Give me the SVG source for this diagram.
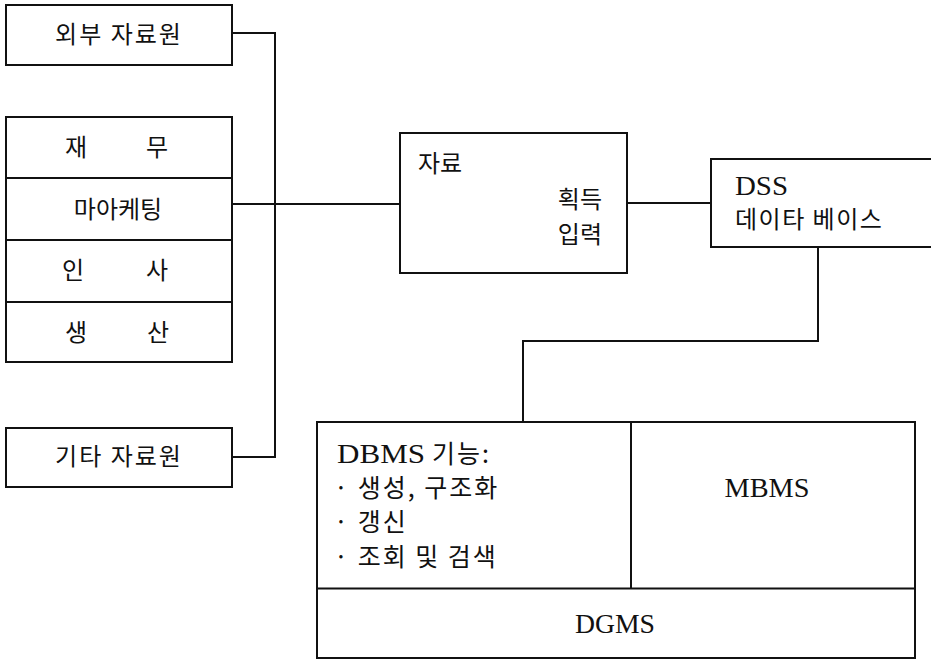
<svg xmlns="http://www.w3.org/2000/svg" width="931" height="660" viewBox="0 0 931 660">
<style>
.box{fill:#fff;stroke:#111;stroke-width:2}
.ln{fill:none;stroke:#111;stroke-width:2}
.ko{font-family:"Noto Sans CJK KR","Noto Sans",sans-serif;font-size:24px;fill:#111}
.kob{font-family:"Noto Sans CJK KR","Noto Sans",sans-serif;font-size:25px;fill:#111;letter-spacing:2px}
.la{font-family:"Liberation Serif","Times New Roman",serif;font-size:27px;fill:#111}
.mid{text-anchor:middle}
</style>
<rect width="931" height="660" fill="#fff"/>
<g id="connectors">
<path class="ln" d="M232,33 H275 V457 H232"/>
<path class="ln" d="M232,204 H400"/>
<path class="ln" d="M627,203 H711"/>
<path class="ln" d="M818,247 V341 H523 V422"/>
</g>
<g id="external">
<rect class="box" x="6" y="5" width="226" height="60"/>
<text class="ko mid" x="119" y="43" letter-spacing="2">외부 자료원</text>
</g>
<g id="internal">
<rect class="box" x="6" y="117" width="226" height="245"/>
<path class="ln" d="M6,178 H232 M6,240 H232 M6,302 H232"/>
<text class="ko mid" y="156"><tspan x="76">재</tspan><tspan x="157">무</tspan></text>
<text class="ko mid" x="118" y="218">마아케팅</text>
<text class="ko mid" y="279"><tspan x="73">인</tspan><tspan x="157">사</tspan></text>
<text class="ko mid" y="341"><tspan x="76">생</tspan><tspan x="158">산</tspan></text>
</g>
<g id="other">
<rect class="box" x="6" y="428" width="226" height="59"/>
<text class="ko mid" x="119" y="465" letter-spacing="2">기타 자료원</text>
</g>
<g id="acquire">
<rect class="box" x="400" y="133" width="227" height="140"/>
<text class="ko" x="418" y="172">자료</text>
<text class="ko" x="602" y="208" text-anchor="end">획득</text>
<text class="ko" x="602" y="243" text-anchor="end">입력</text>
</g>
<g id="dssdb">
<rect class="box" x="711" y="159" width="230" height="88"/>
<text class="la" x="735" y="195" textLength="53" lengthAdjust="spacingAndGlyphs">DSS</text>
<text class="ko" x="735" y="228" letter-spacing="1.5">데이타 베이스</text>
</g>
<g id="system">
<rect class="box" x="317" y="422" width="598" height="236"/>
<path class="ln" d="M317,588.5 H915 M631,422 V588.5"/>
<text class="la" x="337" y="463" textLength="88" lengthAdjust="spacingAndGlyphs">DBMS</text>
<text class="kob" x="432" y="463">기능:</text>
<text class="kob" x="334" y="497">· 생성, 구조화</text>
<text class="kob" x="334" y="531">· 갱신</text>
<text class="kob" x="334" y="566">· 조회 및 검색</text>
<text class="la mid" x="767" y="497" textLength="85" lengthAdjust="spacingAndGlyphs">MBMS</text>
<text class="la mid" x="615" y="633" textLength="80" lengthAdjust="spacingAndGlyphs">DGMS</text>
</g>
</svg>
